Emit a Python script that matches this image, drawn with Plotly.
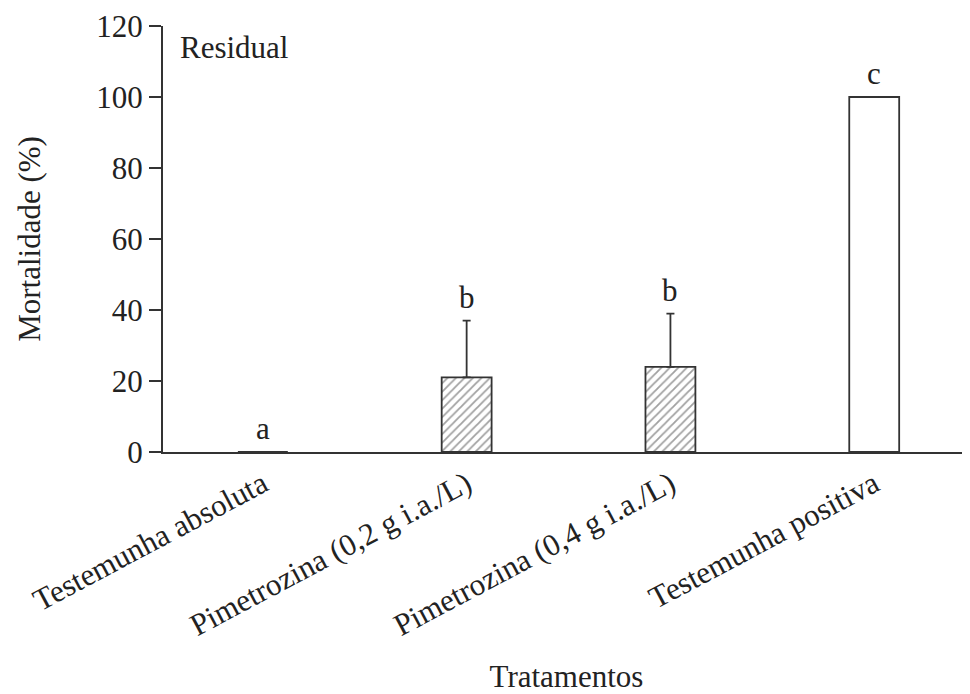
import plotly.graph_objects as go

categories = ["Testemunha absoluta", "Pimetrozina (0,2 g i.a./L)",
              "Pimetrozina (0,4 g i.a./L)", "Testemunha positiva"]
mortality = [0, 21, 24, 100]
error_plus = [0, 16, 15, 0]
letters = ["a", "b", "b", "c"]
hatched = [False, True, True, False]
y_ticks = [0, 20, 40, 60, 80, 100, 120]

FONT = "Liberation Serif, Times New Roman, serif"
LINE = "#333333"
FS = 31

x_idx = list(range(len(categories)))

fig = go.Figure()
fig.add_trace(go.Bar(
    x=x_idx, y=mortality, width=0.245,
    marker=dict(
        color="white",
        line=dict(color=LINE, width=1.8),
        pattern=dict(shape=["/" if h else "" for h in hatched],
                     fgcolor="#444444", bgcolor="white",
                     size=6, solidity=0.3),
    ),
    error_y=dict(type="data", symmetric=False, array=error_plus,
                 arrayminus=[0] * len(mortality),
                 color=LINE, thickness=1.8, width=4),
    showlegend=False,
))

for xi, v, e, t in zip(x_idx, mortality, error_plus, letters):
    fig.add_annotation(x=xi, y=v + e, text=t, showarrow=False,
                       yanchor="bottom", yshift=4,
                       font=dict(family=FONT, size=FS, color="#222"))

fig.add_annotation(xref="paper", yref="paper", x=0.018, y=0.995,
                   text="Residual", showarrow=False,
                   xanchor="left", yanchor="top",
                   font=dict(family=FONT, size=FS, color="#222"))

fig.update_layout(
    width=962, height=686,
    margin=dict(l=155, r=0, t=18, b=242),
    plot_bgcolor="white", paper_bgcolor="white",
    font=dict(family=FONT, size=FS, color="#222"),
    xaxis=dict(
        range=[-0.49, 3.47],
        tickmode="array", tickvals=x_idx, ticktext=categories,
        tickangle=-28, showline=True, linecolor=LINE, linewidth=2,
        ticks="", showgrid=False, zeroline=False, automargin=False,
        title=dict(text="Tratamentos", standoff=26,
                   font=dict(family=FONT, size=FS)),
    ),
    yaxis=dict(
        range=[0, 120], tickvals=y_ticks,
        ticklabeloverflow="allow", automargin=False,
        showline=True, linecolor=LINE, linewidth=2,
        ticks="outside", ticklen=12, tickwidth=2, tickcolor=LINE,
        showgrid=False, zeroline=False,
        title=dict(text="Mortalidade (%)", standoff=46,
                   font=dict(family=FONT, size=FS)),
    ),
)

fig.write_html("out.html")
